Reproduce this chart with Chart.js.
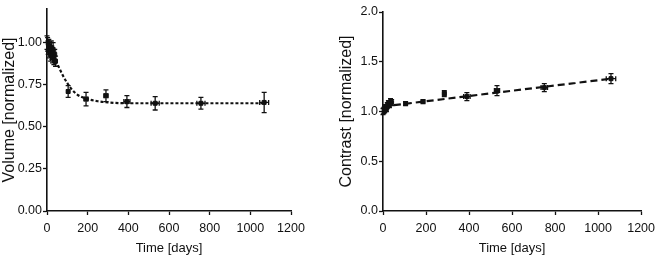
<!DOCTYPE html>
<html>
<head>
<meta charset="utf-8">
<script src="https://cdn.jsdelivr.net/npm/chart.js@4.4.1/dist/chart.umd.min.js"></script>
<style>
  body { margin: 0; background: #fff; }
  #wrap { position: relative; width: 661px; height: 260px; }
  #leftBox { position: absolute; left: 0; top: 0; }
  #rightBox { position: absolute; left: 330px; top: 0; }
</style>
</head>
<body>
<div id="wrap">
  <div id="leftBox"><canvas id="volChart" width="330" height="260"></canvas></div>
  <div id="rightBox"><canvas id="conChart" width="331" height="260"></canvas></div>
</div>
<script>
// x axis ticks (shared)
const dayTicks = [0, 200, 400, 600, 800, 1000, 1200];

// volume panel
const volTicks = [0, 0.25, 0.5, 0.75, 1.0];
const volDays = [0, 3, 6, 9, 12, 15, 18, 21, 24, 27, 30, 34, 38, 42, 104, 192, 290, 393, 532, 757, 1068];
const volValues = [1.0, 0.99, 0.97, 0.98, 0.95, 0.96, 0.93, 0.97, 0.94, 0.92, 0.96, 0.91, 0.93, 0.89, 0.71, 0.665, 0.685, 0.65, 0.64, 0.64, 0.645];
const volErrY = [0.04, 0.04, 0.04, 0.04, 0.04, 0.04, 0.04, 0.04, 0.04, 0.04, 0.04, 0.04, 0.03, 0.03, 0.035, 0.04, 0.035, 0.035, 0.04, 0.035, 0.06];
const volErrX = [3, 3, 3, 3, 3, 3, 3, 3, 3, 3, 3, 3, 3, 4, 6, 10, 10, 15, 20, 20, 22];
// fitted decay curve
const volFitDays = [0, 20, 40, 60, 80, 100, 120, 140, 165, 200, 250, 300, 400, 600, 1068];
const volFitValues = [1.0, 0.95, 0.9, 0.85, 0.8, 0.76, 0.725, 0.7, 0.68, 0.665, 0.652, 0.645, 0.64, 0.64, 0.64];

// contrast panel
const conTicks = [0, 0.5, 1.0, 1.5, 2.0];
const conDays = [0, 4, 8, 12, 16, 20, 25, 30, 35, 40, 105, 186, 285, 390, 530, 750, 1060];
const conValues = [1.0, 1.01, 1.02, 1.04, 1.03, 1.06, 1.08, 1.07, 1.1, 1.09, 1.08, 1.1, 1.18, 1.15, 1.21, 1.24, 1.33];
const conErrY = [0.03, 0.03, 0.03, 0.03, 0.03, 0.03, 0.03, 0.03, 0.03, 0.03, 0.02, 0.02, 0.03, 0.04, 0.05, 0.04, 0.05];
const conErrX = [3, 3, 3, 3, 3, 3, 3, 3, 3, 3, 5, 8, 8, 15, 12, 15, 22];
// fitted linear trend
const conFitDays = [0, 1060];
const conFitValues = [1.05, 1.33];

Chart.defaults.font.family = "'Liberation Sans', Arial, sans-serif";
Chart.defaults.font.size = 12.5;
Chart.defaults.color = "#111";

// draws x/y error bars from dataset.errX / dataset.errY
const errorBars = {
  id: "errorBars",
  afterDatasetsDraw(chart) {
    const { ctx, scales: { x, y } } = chart;
    chart.data.datasets.forEach((ds) => {
      if (!ds.errY) return;
      ctx.save();
      ctx.strokeStyle = "#111";
      ctx.lineWidth = 1.3;
      ds.data.forEach((p, i) => {
        const px = x.getPixelForValue(p.x);
        const py = y.getPixelForValue(p.y);
        const yTop = y.getPixelForValue(p.y + ds.errY[i]);
        const yBot = y.getPixelForValue(p.y - ds.errY[i]);
        const xL = x.getPixelForValue(p.x - ds.errX[i]);
        const xR = x.getPixelForValue(p.x + ds.errX[i]);
        ctx.beginPath();
        ctx.moveTo(px, yTop); ctx.lineTo(px, yBot);
        ctx.moveTo(px - 2.5, yTop); ctx.lineTo(px + 2.5, yTop);
        ctx.moveTo(px - 2.5, yBot); ctx.lineTo(px + 2.5, yBot);
        ctx.moveTo(xL, py); ctx.lineTo(xR, py);
        ctx.moveTo(xL, py - 2.5); ctx.lineTo(xL, py + 2.5);
        ctx.moveTo(xR, py - 2.5); ctx.lineTo(xR, py + 2.5);
        ctx.stroke();
      });
      ctx.restore();
    });
  },
};

function makeConfig(opts) {
  return {
    type: "scatter",
    data: {
      datasets: [
        {
          label: "fit",
          data: opts.fitDays.map((d, i) => ({ x: d, y: opts.fitValues[i] })),
          showLine: true,
          borderColor: "#111",
          borderWidth: 2.2,
          borderDash: opts.dash,
          pointRadius: 0,
          cubicInterpolationMode: "monotone",
        },
        {
          label: "data",
          data: opts.days.map((d, i) => ({ x: d, y: opts.values[i] })),
          errY: opts.errY,
          errX: opts.errX,
          pointStyle: "rect",
          pointRadius: 2.8,
          backgroundColor: "#111",
          borderColor: "#111",
          borderWidth: 1,
        },
      ],
    },
    options: {
      responsive: false,
      animation: false,
      devicePixelRatio: 1,
      layout: { padding: { top: opts.padTop, right: opts.padRight, left: 0, bottom: 0 } },
      plugins: { legend: { display: false }, tooltip: { enabled: false } },
      scales: {
        x: {
          type: "linear",
          min: 0,
          max: 1200,
          afterBuildTicks: (s) => { s.ticks = dayTicks.map((v) => ({ value: v })); },
          afterFit: (s) => { s.height = 49; },
          grid: { drawOnChartArea: false, color: "#111", tickLength: 4, tickWidth: 1.3 },
          border: { color: "#111", width: 1.6 },
          ticks: { padding: 6, maxRotation: 0, callback: (v) => String(v) },
          title: { display: true, text: "Time [days]", font: { size: 13 }, padding: { top: 0, bottom: 4 } },
        },
        y: {
          min: 0,
          max: opts.yMax,
          afterBuildTicks: (s) => { s.ticks = opts.yTicks.map((v) => ({ value: v })); },
          afterFit: (s) => { s.width = opts.yWidth; },
          grid: { drawOnChartArea: false, color: "#111", tickLength: 4, tickWidth: 1.3 },
          border: { color: "#111", width: 1.6 },
          ticks: { padding: 1, callback: (v) => Number(v).toFixed(opts.decimals) },
          title: { display: true, text: opts.yTitle, font: { size: 16 }, padding: { top: opts.titlePad, bottom: 0 } },
        },
      },
    },
    plugins: [errorBars],
  };
}

const volChart = new Chart(document.getElementById("volChart"), makeConfig({
  days: volDays, values: volValues, errY: volErrY, errX: volErrX,
  fitDays: volFitDays, fitValues: volFitValues, dash: [3, 2],
  yTicks: volTicks, yMax: 1.2, decimals: 2, yTitle: "Volume [normalized]",
  yWidth: 47, padTop: 9, padRight: 39, titlePad: 0,
}));

const conChart = new Chart(document.getElementById("conChart"), makeConfig({
  days: conDays, values: conValues, errY: conErrY, errX: conErrX,
  fitDays: conFitDays, fitValues: conFitValues, dash: [7, 4],
  yTicks: conTicks, yMax: 2.0, decimals: 1, yTitle: "Contrast [normalized]",
  yWidth: 53, padTop: 12, padRight: 14, titlePad: 7,
}));
</script>
</body>
</html>
